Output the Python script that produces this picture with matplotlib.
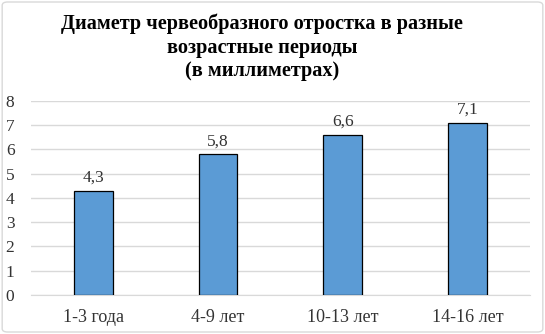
import matplotlib.pyplot as plt
from matplotlib.patches import FancyBboxPatch

# Данные
categories = ['1-3 года', '4-9 лет', '10-13 лет', '14-16 лет']
values = [4.3, 5.8, 6.6, 7.1]
labels = ['4,3', '5,8', '6,6', '7,1']

plt.rcParams['font.family'] = ['Liberation Serif', 'DejaVu Serif']

fig = plt.figure(figsize=(5.45, 3.34), dpi=100)
ax = fig.add_axes([0.057, 0.117, 0.915, 0.581])

x = range(len(categories))
ax.bar(x, values, width=0.31, color='#5B9BD5', edgecolor='black', linewidth=0.9, zorder=3)
for i, v in enumerate(values):
    ax.text(i, v + 0.2, labels[i], ha='center', va='bottom', fontsize=12.5, color='#333333')

ax.set_xlim(-0.5, len(categories) - 0.5)
ax.set_ylim(0, 8)
ax.set_yticks(range(0, 9))
ax.set_xticks(list(x))
ax.set_xticklabels(categories, fontsize=13, color='#333333')
ax.tick_params(axis='y', labelsize=12.5, labelcolor='#333333', length=0, pad=12)
ax.tick_params(axis='x', length=0, pad=10)
ax.grid(axis='y', color='#d9d9d9', linewidth=1, zorder=0)
for s in ['top', 'right', 'left']:
    ax.spines[s].set_visible(False)
ax.spines['bottom'].set_color('#d9d9d9')

fig.text(0.481, 0.96, 'Диаметр червеобразного отростка в разные\nвозрастные периоды\n(в миллиметрах)',
         ha='center', va='top', fontsize=14.6, fontweight='bold', linespacing=1.25)

# рамка вокруг диаграммы
border = FancyBboxPatch((0.004, 0.006), 0.992, 0.988, boxstyle='round,pad=0,rounding_size=0.01',
                        transform=fig.transFigure, facecolor='none', edgecolor='#d9d9d9', linewidth=1)
fig.patches.append(border)

fig.savefig('out.png', dpi=100)
